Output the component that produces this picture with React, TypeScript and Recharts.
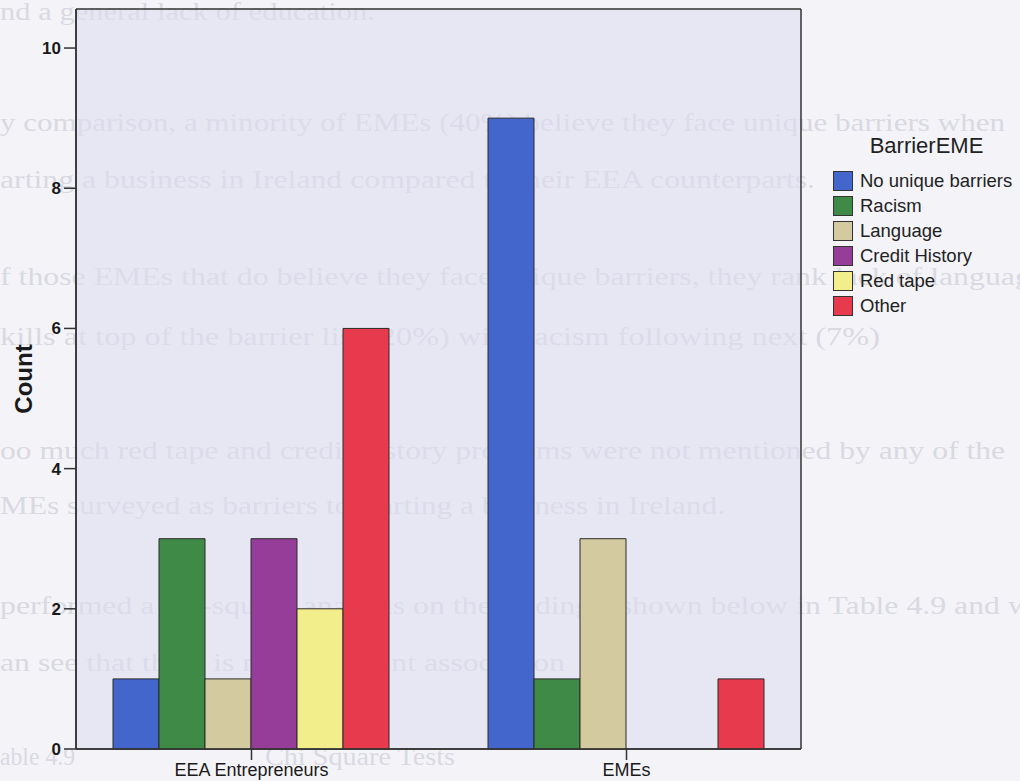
import React from 'react';
import { BarChart, Bar, XAxis, YAxis, CartesianGrid, Legend } from 'recharts';

// counts per applicant group
const groups = ['EEA Entrepreneurs', 'EMEs'];
const noUniqueBarriers = [1, 9];
const racism = [3, 1];
const language = [1, 3];
const creditHistory = [3, 0];
const redTape = [2, 0];
const other = [6, 1];
const yTicks = [0, 2, 4, 6, 8, 10];

const series = [
  { key: 'noUnique', name: 'No unique barriers', values: noUniqueBarriers, color: '#4366cc' },
  { key: 'racism', name: 'Racism', values: racism, color: '#3f8a47' },
  { key: 'language', name: 'Language', values: language, color: '#d3cb9f' },
  { key: 'credit', name: 'Credit History', values: creditHistory, color: '#963d9a' },
  { key: 'redTape', name: 'Red tape', values: redTape, color: '#f2ee8c' },
  { key: 'other', name: 'Other', values: other, color: '#e73a4c' },
];

const data = groups.map((g, i) => {
  const row: Record<string, string | number> = { group: g };
  series.forEach((s) => {
    row[s.key] = s.values[i];
  });
  return row;
});

// page text showing through from the other side of the sheet
const backText = [
  { text: 'nd a general lack of education.', x: 0, y: 20, w: 375 },
  { text: 'y comparison, a minority of EMEs (40%) believe they face unique barriers when', x: 0, y: 131, w: 1005 },
  { text: 'arting a business in Ireland compared to their EEA counterparts.', x: 0, y: 188, w: 815 },
  { text: 'f those EMEs that do believe they face unique barriers, they rank lack of language', x: 0, y: 285, w: 1045 },
  { text: 'kills at top of the barrier list (20%) with racism following next (7%)', x: 0, y: 345, w: 880 },
  { text: 'oo much red tape and credit history problems were not mentioned by any of the', x: 0, y: 459, w: 1005 },
  { text: 'MEs surveyed as barriers to starting a business in Ireland.', x: 0, y: 514, w: 725 },
  { text: 'performed a chi-square analysis on the findings, shown below in Table 4.9 and we', x: 0, y: 614, w: 1045 },
  { text: 'an see that there is no significant association', x: 0, y: 671, w: 565 },
  { text: 'able 4.9', x: 0, y: 765, w: 75 },
  { text: 'Chi Square Tests', x: 265, y: 765, w: 190 },
];

const sans = '"Liberation Sans", Arial, sans-serif';
const frame = '#333';

function LegendBox(props: any) {
  const payload: any[] = props.payload || [];
  // keep the series order rather than the legend's alphabetical sort
  const items = series
    .map((s) => payload.find((p) => p.value === s.name))
    .filter(Boolean);
  return (
    <div style={{ fontFamily: sans, color: '#222' }}>
      <div style={{ fontSize: 22, textAlign: 'center', marginBottom: 9 }}>BarrierEME</div>
      {items.map((p: any) => (
        <div key={p.value} style={{ display: 'flex', alignItems: 'center', height: 25 }}>
          <span
            style={{
              width: 20,
              height: 20,
              background: p.color,
              border: '1px solid #333',
              marginRight: 7,
              boxSizing: 'border-box',
              flexShrink: 0,
            }}
          />
          <span style={{ fontSize: 18.5, whiteSpace: 'nowrap' }}>{p.value}</span>
        </div>
      ))}
    </div>
  );
}

export default function App() {
  return (
    <div style={{ position: 'absolute', left: 0, top: 0, width: 1020, height: 781, background: '#f4f4f8', overflow: 'hidden' }}>
      <svg width={1020} height={781} style={{ position: 'absolute', left: 0, top: 0 }}>
        {backText.map((t) => (
          <text
            key={t.text}
            x={t.x}
            y={t.y}
            textLength={t.w}
            lengthAdjust="spacingAndGlyphs"
            fontFamily='"Liberation Serif", "Times New Roman", serif'
            fontSize={26}
            fill="#d9d9e2"
          >
            {t.text}
          </text>
        ))}
      </svg>
      <div style={{ position: 'absolute', left: 0, top: 0 }}>
        <BarChart
          width={1020}
          height={781}
          data={data}
          margin={{ top: 9, right: 219, bottom: 0, left: 0 }}
          barCategoryGap={49}
          barGap={0}
        >
          {/* plot box: tinted fill plus a border on all four sides */}
          <CartesianGrid
            fill="#dcdcf0"
            fillOpacity={0.55}
            stroke={frame}
            strokeWidth={1.5}
            horizontalCoordinatesGenerator={({ offset }: any) => [offset.top, offset.top + offset.height]}
            verticalCoordinatesGenerator={({ offset }: any) => [offset.left, offset.left + offset.width]}
          />
          <XAxis
            dataKey="group"
            height={32}
            padding={{ left: -12, right: -13 }}
            tickSize={11}
            tickMargin={3}
            axisLine={{ stroke: frame, strokeWidth: 1.5 }}
            tickLine={{ stroke: frame, strokeWidth: 1.5 }}
            tick={{ fill: '#1a1a1a', fontSize: 18, fontFamily: sans }}
            interval={0}
          />
          <YAxis
            width={76}
            domain={[0, 10.557]}
            ticks={yTicks}
            tickSize={12}
            tickMargin={3}
            axisLine={{ stroke: frame, strokeWidth: 1.5 }}
            tickLine={{ stroke: frame, strokeWidth: 1.5 }}
            tick={{ fill: '#1a1a1a', fontSize: 17, fontWeight: 'bold', fontFamily: sans }}
            label={{ value: 'Count', angle: -90, position: 'center', dx: -15, fill: '#1a1a1a', fontSize: 24, fontWeight: 'bold', fontFamily: sans }}
          />
          <Legend
            layout="horizontal"
            verticalAlign="middle"
            align="center"
            content={<LegendBox />}
            wrapperStyle={{ left: 833, top: 133, width: 187 }}
          />
          {series.map((s) => (
            <Bar
              key={s.key}
              dataKey={s.key}
              name={s.name}
              fill={s.color}
              stroke="#2a2a2a"
              strokeWidth={1}
              isAnimationActive={false}
            />
          ))}
        </BarChart>
      </div>
    </div>
  );
}
